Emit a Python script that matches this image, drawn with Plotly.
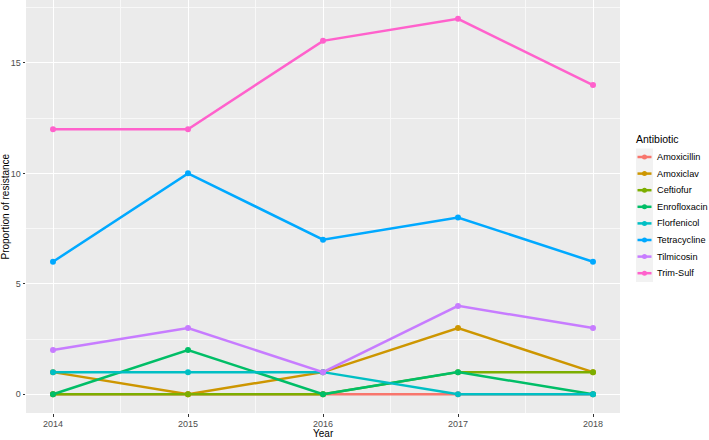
import plotly.graph_objects as go

years = [2014, 2015, 2016, 2017, 2018]
antibiotics = ['Amoxicillin', 'Amoxiclav', 'Ceftiofur', 'Enrofloxacin',
               'Florfenicol', 'Tetracycline', 'Tilmicosin', 'Trim-Sulf']
amoxicillin = [0, 0, 0, 0, 0]
amoxiclav = [1, 0, 1, 3, 1]
ceftiofur = [0, 0, 0, 1, 1]
enrofloxacin = [0, 2, 0, 1, 0]
florfenicol = [1, 1, 1, 0, 0]
tetracycline = [6, 10, 7, 8, 6]
tilmicosin = [2, 3, 1, 4, 3]
trim_sulf = [12, 12, 16, 17, 14]
values = [amoxicillin, amoxiclav, ceftiofur, enrofloxacin,
          florfenicol, tetracycline, tilmicosin, trim_sulf]
colors = ['#F8766D', '#CD9600', '#7CAE00', '#00BE67',
          '#00BFC4', '#00A9FF', '#C77CFF', '#FF61CC']

fig = go.Figure()
for name, y, c in zip(antibiotics, values, colors):
    fig.add_trace(go.Scatter(x=years, y=y, mode='lines+markers', name=name,
                             line=dict(color=c, width=2.5),
                             marker=dict(color=c, size=6), showlegend=False))

W, H = 709, 440
L, R, T, B = 26, 89, 0, 27
pw, ph = W - L - R, H - T - B

def px(x):
    return (x - L) / pw

def py(y):
    return (H - B - y) / ph

# ggplot-style legend drawn by hand (plotly's row height is too tall)
fig.add_shape(type='rect', xref='paper', yref='paper',
              x0=px(636), x1=px(653), y0=py(282), y1=py(148.5),
              fillcolor='#F2F2F2', line=dict(width=0), layer='below')
fig.add_annotation(text='Antibiotic', xref='paper', yref='paper',
                   x=px(634), y=py(139), xanchor='left', yanchor='middle',
                   showarrow=False, font=dict(size=10.5, color='black'))
for i, (name, c) in enumerate(zip(antibiotics, colors)):
    yy = 157 + 16.6 * i
    fig.add_shape(type='line', xref='paper', yref='paper',
                  x0=px(637.5), x1=px(651.5), y0=py(yy), y1=py(yy),
                  line=dict(color=c, width=2.5))
    fig.add_shape(type='circle', xref='paper', yref='paper',
                  x0=px(642), x1=px(647), y0=py(yy + 2.5), y1=py(yy - 2.5),
                  fillcolor=c, line=dict(width=0))
    fig.add_annotation(text=name, xref='paper', yref='paper',
                       x=px(655), y=py(yy), xanchor='left', yanchor='middle',
                       showarrow=False, font=dict(size=9.2, color='black'))

# axis titles
fig.add_annotation(text='Year', xref='paper', yref='paper',
                   x=0.5, y=py(440), xanchor='center', yanchor='bottom',
                   showarrow=False, borderpad=0, font=dict(size=10, color='black'))
fig.add_annotation(text='Proportion of resistance', xref='paper', yref='paper',
                   x=px(5), y=0.5, xanchor='center', yanchor='middle', textangle=-90,
                   showarrow=False, borderpad=0, font=dict(size=10, color='black'))

axis_common = dict(showline=False, zeroline=False, gridcolor='white', gridwidth=1.3,
                   ticks='outside', ticklen=2.5, tickcolor='#333333', automargin=False,
                   tickfont=dict(family='Liberation Sans', size=9, color='#4D4D4D'))

fig.update_layout(
    width=W, height=H,
    margin=dict(l=L, r=R, t=T, b=B, autoexpand=False),
    paper_bgcolor='white', plot_bgcolor='#EBEBEB',
    font=dict(family='Liberation Sans', color='black'),
    xaxis=dict(range=[2013.8, 2018.2], tickvals=years, **axis_common,
               minor=dict(tickvals=[2014.5, 2015.5, 2016.5, 2017.5], showgrid=True,
                          gridcolor='#F8F8F8', gridwidth=0.7, ticks='')),
    yaxis=dict(range=[-0.85, 17.85], tickvals=[0, 5, 10, 15], **axis_common,
               minor=dict(tickvals=[2.5, 7.5, 12.5, 17.5], showgrid=True,
                          gridcolor='#F8F8F8', gridwidth=0.7, ticks='')),
    showlegend=False,
)

# drop the default 8px page margin so the figure fills the window exactly
fig.write_html('out.html', config={'displayModeBar': False},
               post_script="document.body.style.margin='0';"
                           "document.body.style.overflow='hidden';")
